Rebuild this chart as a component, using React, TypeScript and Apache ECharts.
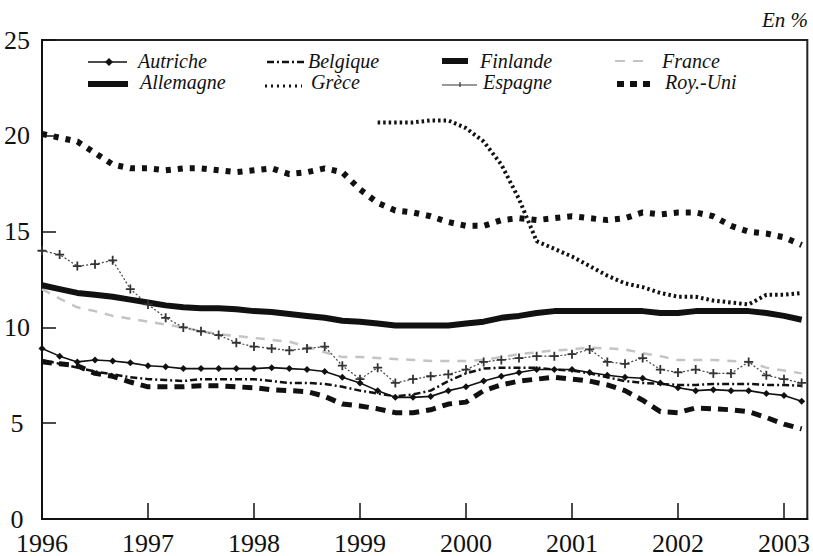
import React, { useEffect, useRef } from "react";
import * as echarts from "echarts";

const periods = [
  "1996-01", "1996-03", "1996-05", "1996-07", "1996-09", "1996-11",
  "1997-01", "1997-03", "1997-05", "1997-07", "1997-09", "1997-11",
  "1998-01", "1998-03", "1998-05", "1998-07", "1998-09", "1998-11",
  "1999-01", "1999-03", "1999-05", "1999-07", "1999-09", "1999-11",
  "2000-01", "2000-03", "2000-05", "2000-07", "2000-09", "2000-11",
  "2001-01", "2001-03", "2001-05", "2001-07", "2001-09", "2001-11",
  "2002-01", "2002-03", "2002-05", "2002-07", "2002-09", "2002-11",
  "2003-01", "2003-03",
];

const autriche = [8.9, 8.5, 8.2, 8.3, 8.25, 8.15, 8.0, 7.95, 7.85, 7.85, 7.85, 7.85, 7.85, 7.9, 7.85, 7.8, 7.7, 7.4, 7.1, 6.7, 6.35, 6.35, 6.4, 6.7, 6.9, 7.2, 7.45, 7.65, 7.8, 7.8, 7.8, 7.65, 7.5, 7.4, 7.35, 7.1, 6.85, 6.7, 6.75, 6.7, 6.7, 6.55, 6.45, 6.15];
const belgique = [8.3, 8.1, 7.9, 7.7, 7.55, 7.4, 7.3, 7.25, 7.2, 7.3, 7.3, 7.3, 7.3, 7.2, 7.1, 7.1, 7.05, 6.9, 6.7, 6.55, 6.4, 6.5, 6.7, 7.2, 7.6, 7.85, 7.9, 7.9, 7.9, 7.8, 7.75, 7.6, 7.4, 7.2, 7.1, 7.05, 7.0, 7.0, 7.05, 7.05, 7.05, 7.0, 7.0, 6.95];
const finlande = [8.2, 8.1, 8.0, 7.6, 7.45, 7.15, 6.9, 6.9, 6.9, 6.95, 6.95, 6.9, 6.85, 6.75, 6.7, 6.65, 6.4, 6.0, 5.9, 5.75, 5.55, 5.55, 5.7, 6.0, 6.1, 6.7, 7.0, 7.2, 7.3, 7.4, 7.3, 7.2, 7.0, 6.7, 6.2, 5.6, 5.55, 5.8, 5.75, 5.7, 5.6, 5.3, 4.95, 4.7];
const france = [12.0, 11.5, 11.05, 10.85, 10.6, 10.45, 10.3, 10.15, 10.0, 9.8, 9.65, 9.55, 9.45, 9.35, 9.25, 9.0, 8.7, 8.45, 8.45, 8.4, 8.35, 8.3, 8.25, 8.25, 8.25, 8.3, 8.45, 8.6, 8.7, 8.8, 8.85, 8.95, 8.9, 8.85, 8.65, 8.5, 8.3, 8.3, 8.3, 8.25, 8.2, 7.9, 7.75, 7.6];
const allemagne = [12.2, 12.0, 11.8, 11.7, 11.6, 11.45, 11.3, 11.15, 11.05, 11.0, 11.0, 10.95, 10.85, 10.8, 10.7, 10.6, 10.5, 10.35, 10.3, 10.2, 10.1, 10.1, 10.1, 10.1, 10.2, 10.3, 10.5, 10.6, 10.75, 10.85, 10.85, 10.85, 10.85, 10.85, 10.85, 10.75, 10.75, 10.85, 10.85, 10.85, 10.85, 10.75, 10.6, 10.4];
const grece = [null, null, null, null, null, null, null, null, null, null, null, null, null, null, null, null, null, null, null, 20.7, 20.7, 20.7, 20.8, 20.8, 20.4, 19.7, 18.5, 16.7, 14.5, 14.1, 13.7, 13.2, 12.7, 12.3, 12.1, 11.8, 11.6, 11.6, 11.4, 11.3, 11.2, 11.7, 11.7, 11.8];
const espagne = [14.0, 13.8, 13.2, 13.3, 13.5, 12.0, 11.2, 10.5, 10.0, 9.8, 9.6, 9.2, 9.0, 8.9, 8.8, 8.9, 9.0, 8.0, 7.3, 7.9, 7.1, 7.3, 7.45, 7.55, 7.8, 8.2, 8.3, 8.4, 8.5, 8.5, 8.6, 8.85, 8.2, 8.1, 8.4, 7.8, 7.65, 7.8, 7.6, 7.6, 8.2, 7.5, 7.3, 7.1];
const royUni = [20.1, 19.9, 19.7, 19.1, 18.5, 18.3, 18.3, 18.2, 18.3, 18.3, 18.2, 18.1, 18.2, 18.3, 18.0, 18.1, 18.3, 18.1, 17.2, 16.5, 16.1, 16.0, 15.8, 15.5, 15.3, 15.3, 15.6, 15.7, 15.6, 15.7, 15.8, 15.7, 15.6, 15.7, 16.0, 15.9, 16.0, 16.0, 15.8, 15.3, 15.0, 14.9, 14.7, 14.3];

const yTicks = [0, 5, 10, 15, 20, 25];
const xYears = [1996, 1997, 1998, 1999, 2000, 2001, 2002, 2003];

const toYear = (p: string) => {
  const [y, m] = p.split("-").map(Number);
  return y + (m - 1) / 12;
};
const pairs = (vals: (number | null)[]) =>
  periods.map((p, i) => [toYear(p), vals[i] === null ? null : vals[i]]);

const SERIF = "Liberation Serif, Times New Roman, Times, DejaVu Serif, serif";
const PLUS = "path://M4,0H6V4H10V6H6V10H4V6H0V4H4Z";

export default function App() {
  const ref = useRef<HTMLDivElement>(null);
  useEffect(() => {
    if (!ref.current) return;
    const chart = echarts.init(ref.current, null, { renderer: "svg" });
    const txt = (x: number, y: number, t: string) => ({
      type: "text",
      x,
      y,
      style: {
        text: t,
        fontFamily: SERIF,
        fontStyle: "italic",
        fontSize: 20,
        lineHeight: 18,
        fill: "#111",
        align: "left",
        verticalAlign: "middle",
      },
    });
    const ln = (x1: number, y1: number, x2: number, y2: number, style: any) => ({
      type: "line",
      shape: { x1, y1, x2, y2 },
      style: { stroke: "#111", lineCap: "butt", ...style },
    });
    const r1 = 61;
    const r2 = 82;
    const graphic: any[] = [
      {
        type: "text",
        x: 808,
        y: 20,
        style: { text: "En %", fontFamily: SERIF, fontStyle: "italic", fontSize: 21, fill: "#111", align: "right", verticalAlign: "middle" },
      },
      ln(88, r1 + 1, 127, r1 + 1, { lineWidth: 1.5 }),
      { type: "polygon", shape: { points: [[109, r1 - 3], [113, r1 + 1], [109, r1 + 5], [105, r1 + 1]] }, style: { fill: "#111" } },
      txt(138, r1, "Autriche"),
      ln(267, r1 + 1, 305, r1 + 1, { lineWidth: 2.5, lineDash: [7, 3, 2, 3] }),
      txt(308, r1, "Belgique"),
      ln(442, r1, 468, r1, { lineWidth: 6 }),
      txt(480, r1, "Finlande"),
      ln(615, r1, 650, r1, { lineWidth: 2, lineDash: [10, 8], stroke: "#c4c4c4" }),
      txt(662, r1, "France"),
      ln(88, r2 + 2, 128, r2 + 2, { lineWidth: 6 }),
      txt(140, r2, "Allemagne"),
      ln(265, r2 + 4, 302, r2 + 4, { lineWidth: 3, lineDash: [2, 4] }),
      txt(311, r2, "Grèce"),
      ln(442, r2 + 3, 477, r2 + 3, { lineWidth: 1.2, stroke: "#333" }),
      ln(460, r2, 460, r2 + 5, { lineWidth: 1.2, stroke: "#333" }),
      txt(483, r2, "Espagne"),
      ln(617, r2 + 2, 651, r2 + 2, { lineWidth: 6, lineDash: [7, 6] }),
      txt(665, r2, "Roy.-Uni"),
    ];

    const base = { type: "line", smooth: false, animation: false, connectNulls: false };
    const option: any = {
      animation: false,
      backgroundColor: "#ffffff",
      textStyle: { fontFamily: SERIF },
      grid: { left: 42, right: 5, top: 40, bottom: 36, show: true, borderColor: "#222", borderWidth: 2, containLabel: false },
      xAxis: {
        type: "value",
        min: 1996,
        max: 2003.22,
        interval: 1,
        axisLine: { show: true, lineStyle: { color: "#111", width: 2 } },
        axisTick: { show: true, inside: true, length: 16, lineStyle: { color: "#111", width: 1.5 } },
        axisLabel: {
          formatter: (v: number) =>
            xYears.includes(Math.round(v)) && Math.abs(v - Math.round(v)) < 1e-6 ? String(Math.round(v)) : "",
          fontFamily: SERIF,
          fontSize: 26,
          color: "#111",
          margin: 11,
          showMaxLabel: false,
        },
        splitLine: { show: false },
      },
      yAxis: {
        type: "value",
        min: yTicks[0],
        max: yTicks[yTicks.length - 1],
        interval: 5,
        axisLine: { show: true, lineStyle: { color: "#111", width: 2 } },
        axisTick: { show: true, inside: true, length: 14, lineStyle: { color: "#111", width: 1.5 } },
        axisLabel: { fontFamily: SERIF, fontSize: 26, color: "#111", align: "center", margin: 25 },
        splitLine: { show: false },
      },
      graphic,
      series: [
        { ...base, name: "France", data: pairs(france), symbol: "none", lineStyle: { color: "#c4c4c4", width: 2.5, type: [9, 8], cap: "butt" } },
        { ...base, name: "Espagne", data: pairs(espagne), symbol: PLUS, symbolSize: 9, showAllSymbol: true, itemStyle: { color: "#333" }, lineStyle: { color: "#444", width: 1.2, type: [2, 2] } },
        { ...base, name: "Autriche", data: pairs(autriche), symbol: "diamond", symbolSize: 7, showAllSymbol: true, itemStyle: { color: "#111" }, lineStyle: { color: "#111", width: 1.6 } },
        { ...base, name: "Belgique", data: pairs(belgique), symbol: "none", lineStyle: { color: "#111", width: 2.5, type: [7, 3, 2, 3], cap: "butt" } },
        { ...base, name: "Finlande", data: pairs(finlande), symbol: "none", lineStyle: { color: "#111", width: 5, type: [10, 7], cap: "butt" } },
        { ...base, name: "Allemagne", data: pairs(allemagne), symbol: "none", lineStyle: { color: "#111", width: 6 } },
        { ...base, name: "Grèce", data: pairs(grece), symbol: "none", lineStyle: { color: "#111", width: 4, type: [2.5, 3], cap: "butt" } },
        { ...base, name: "Roy.-Uni", data: pairs(royUni), symbol: "none", lineStyle: { color: "#111", width: 6, type: [5, 7], cap: "butt" } },
      ],
    };
    chart.setOption(option);
    return () => chart.dispose();
  }, []);
  return (
    <div
      ref={ref}
      style={{ position: "absolute", left: 0, top: 0, width: 813, height: 556, background: "#fff" }}
    />
  );
}
